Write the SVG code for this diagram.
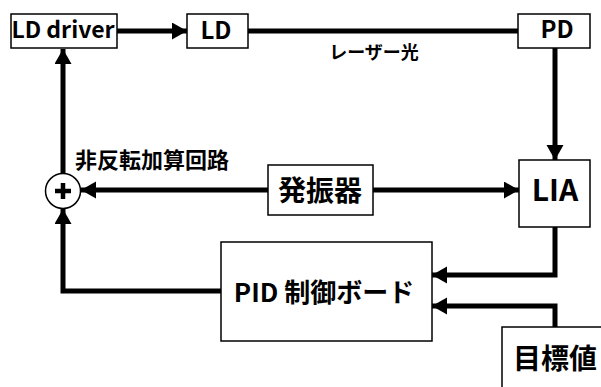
<svg xmlns="http://www.w3.org/2000/svg" width="601" height="387" viewBox="0 0 601 387">
<style>
.box{fill:#fff;stroke:#000;stroke-width:1.5}
.t{font-family:"Noto Sans CJK JP","Noto Sans",sans-serif;font-weight:bold;fill:#000;text-anchor:middle}
.c{fill:none;stroke:#000;stroke-width:5}
</style>
<defs>
<marker id="ah" markerUnits="userSpaceOnUse" markerWidth="16" markerHeight="18" refX="15" refY="8.5" orient="auto">
<path d="M0,0 L15,8.5 L0,17 Z" fill="#000"/>
</marker>
</defs>
<rect width="601" height="387" fill="#fff"/>
<g id="connectors">
<line class="c" x1="117" y1="31" x2="187" y2="31" marker-end="url(#ah)"/>
<line class="c" x1="248" y1="31" x2="518" y2="31"/>
<line class="c" x1="555" y1="48" x2="555" y2="160" marker-end="url(#ah)"/>
<line class="c" x1="373" y1="190" x2="519" y2="190" marker-end="url(#ah)"/>
<line class="c" x1="268" y1="190" x2="81" y2="190" marker-end="url(#ah)"/>
<line class="c" x1="63" y1="173" x2="63" y2="49" marker-end="url(#ah)"/>
<polyline class="c" points="221,291 63,291 63,209" marker-end="url(#ah)"/>
<polyline class="c" points="555,227 555,275 432,275" marker-end="url(#ah)"/>
<polyline class="c" points="555,327 555,306 432,306" marker-end="url(#ah)"/>
</g>
<g id="ld-driver">
<rect class="box" x="11" y="14" width="106" height="34"/>
<text class="t" x="63" y="38" font-size="23">LD driver</text>
</g>
<g id="ld">
<rect class="box" x="187" y="14" width="61" height="34"/>
<text class="t" x="216" y="39" font-size="24">LD</text>
</g>
<g id="pd">
<rect class="box" x="518" y="14" width="72" height="34"/>
<text class="t" x="557" y="38" font-size="24">PD</text>
</g>
<g id="laser-label">
<text class="t" x="374" y="59" font-size="18">レーザー光</text>
</g>
<g id="lia">
<rect class="box" x="519" y="160" width="71" height="67"/>
<text class="t" x="555" y="201" font-size="30">LIA</text>
</g>
<g id="oscillator">
<rect class="box" x="268" y="165" width="105" height="50"/>
<text class="t" x="320" y="201" font-size="28">発振器</text>
</g>
<g id="summer">
<circle cx="63" cy="191" r="17.5" fill="#fff" stroke="#000" stroke-width="1.5"/>
<path d="M55,191 H71 M63,183 V199" stroke="#000" stroke-width="4.5"/>
<text class="t" x="75" y="168" font-size="22" style="text-anchor:start">非反転加算回路</text>
</g>
<g id="pid">
<rect class="box" x="221" y="242" width="211" height="99"/>
<text class="t" x="324" y="302" font-size="26">PID 制御ボード</text>
</g>
<g id="target">
<rect class="box" x="502" y="327" width="120" height="80"/>
<text class="t" x="555" y="369" font-size="28">目標値</text>
</g>
</svg>
